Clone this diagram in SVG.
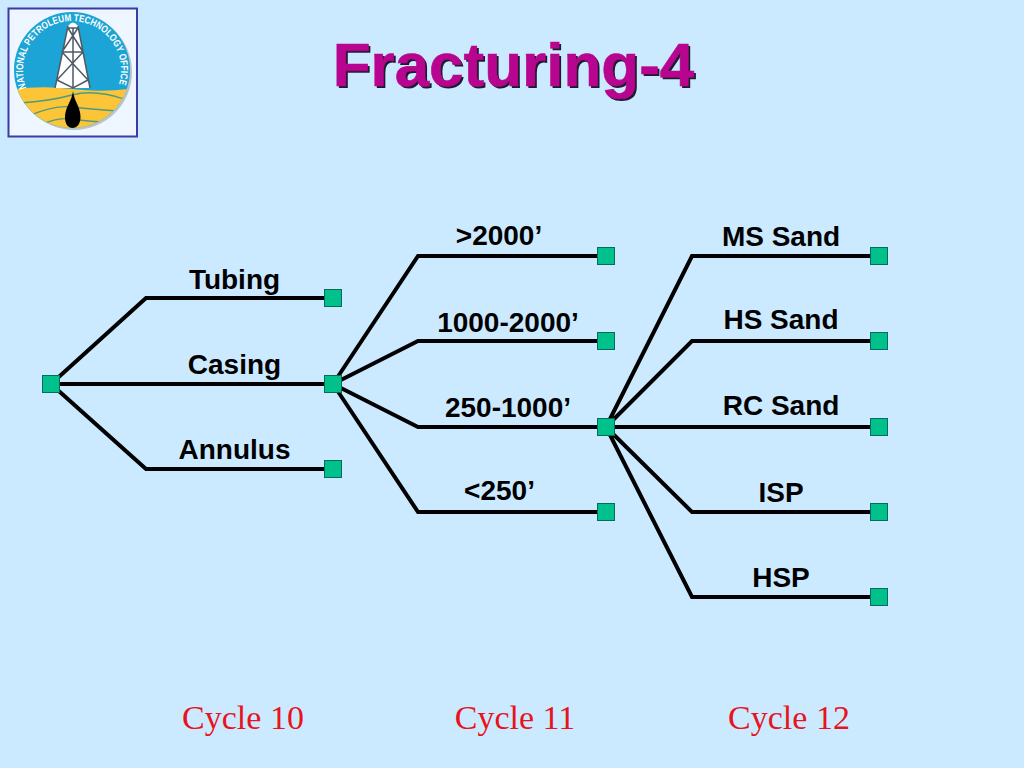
<svg xmlns="http://www.w3.org/2000/svg" width="1024" height="768" viewBox="0 0 1024 768">
<style>
.n{fill:#00c08c;stroke:#0a6a58;stroke-width:1}
.c{fill:none;stroke:#000;stroke-width:4;stroke-linejoin:miter}
.l{font-family:"Liberation Sans",Arial,sans-serif;font-weight:700;font-size:28px;fill:#000;text-anchor:middle}
.y{font-family:"Liberation Serif","Times New Roman",serif;font-size:34px;fill:#e8141c;text-anchor:middle}
.t{font-family:"Liberation Sans",Arial,sans-serif;font-weight:700;font-size:62px;text-anchor:middle}
.d{fill:none;stroke:#4e5a66;stroke-width:1.5}
.w{fill:none;stroke:#4d9a80;stroke-width:1.3}
</style>
<defs>
<path id="arc" d="M26.400 88A49 49 0 1 1 117.600 88"/>
<clipPath id="disc"><circle cx="72" cy="70" r="58"/></clipPath>
</defs>
<rect width="1024" height="768" fill="#cceaff"/>
<g id="logo">
<rect x="8.500" y="8.500" width="128.500" height="128" fill="#eef7ff" stroke="#3a3aa8" stroke-width="2"/>
<circle cx="74" cy="72" r="58" fill="#b9c4c8"/>
<circle cx="72" cy="70" r="58" fill="#1ca4d6"/>
<g clip-path="url(#disc)">
<path d="M10 90Q40 85 72 89T135 88V135H10Z" fill="#fcc537"/>
<path class="w" d="M20 103Q50 101 72 95T124 99M28 116Q55 105 72 107T118 111M42 124Q60 117 72 119T104 122"/>
</g>
<path d="M68 26Q73 19 78 26L90 88H55Z" fill="#fff"/>
<path class="d" d="M68 26L55 88M78 26L90 88M68 28H78M62 52H83M68 28L83 52M78 28L62 52M73 28V88M62 52L88 80M83 52L57 80M57 80L73 88L88 80"/>
<path d="M73 91C74 101 80.500 107 80.500 117C80.500 124 77 128 72.500 128C68 128 65 124 65 117C65 107 72 101 73 91Z" fill="#000"/>
<text font-family="'Liberation Sans',Arial,sans-serif" font-weight="700" font-size="10" fill="#fff" textLength="186" lengthAdjust="spacingAndGlyphs"><textPath href="#arc">NATIONAL PETROLEUM TECHNOLOGY OFFICE</textPath></text>
</g>
<text class="t" x="515.500" y="88" fill="#1c1c30">Fracturing-4</text>
<text class="t" x="513.500" y="86" fill="#b8058f" stroke="#b8058f" stroke-width="0.6">Fracturing-4</text>
<g id="connectors">
<path class="c" d="M51 384L146 298H333M51 384H333M51 384L146 469H333"/>
<path class="c" d="M333 384L418 256H606M333 384L418 341H606M333 384L418 427H606M333 384L418 512H606"/>
<path class="c" d="M606 427L692 256H879M606 427L692 341H879M606 427H879M606 427L692 512H879M606 427L692 597H879"/>
</g>
<g id="n0"><rect class="n" x="42.500" y="375.500" width="17" height="17"/></g>
<g id="tubing"><rect class="n" x="324.500" y="289.500" width="17" height="17"/><text class="l" x="234.500" y="289">Tubing</text></g>
<g id="casing"><rect class="n" x="324.500" y="375.500" width="17" height="17"/><text class="l" x="234.500" y="374">Casing</text></g>
<g id="annulus"><rect class="n" x="324.500" y="460.500" width="17" height="17"/><text class="l" x="234.500" y="459">Annulus</text></g>
<g id="d1"><rect class="n" x="597.500" y="247.500" width="17" height="17"/><text class="l" x="499" y="245">&gt;2000’</text></g>
<g id="d2"><rect class="n" x="597.500" y="332.500" width="17" height="17"/><text class="l" x="508" y="332">1000-2000’</text></g>
<g id="d3"><rect class="n" x="597.500" y="418.500" width="17" height="17"/><text class="l" x="508" y="417">250-1000’</text></g>
<g id="d4"><rect class="n" x="597.500" y="503.500" width="17" height="17"/><text class="l" x="499.500" y="500">&lt;250’</text></g>
<g id="p1"><rect class="n" x="870.500" y="247.500" width="17" height="17"/><text class="l" x="781" y="246">MS Sand</text></g>
<g id="p2"><rect class="n" x="870.500" y="332.500" width="17" height="17"/><text class="l" x="781" y="329">HS Sand</text></g>
<g id="p3"><rect class="n" x="870.500" y="418.500" width="17" height="17"/><text class="l" x="781" y="415">RC Sand</text></g>
<g id="p4"><rect class="n" x="870.500" y="503.500" width="17" height="17"/><text class="l" x="781" y="502">ISP</text></g>
<g id="p5"><rect class="n" x="870.500" y="588.500" width="17" height="17"/><text class="l" x="781" y="587">HSP</text></g>
<text class="y" x="243" y="729">Cycle 10</text>
<text class="y" x="515" y="729">Cycle 11</text>
<text class="y" x="789" y="729">Cycle 12</text>
</svg>
